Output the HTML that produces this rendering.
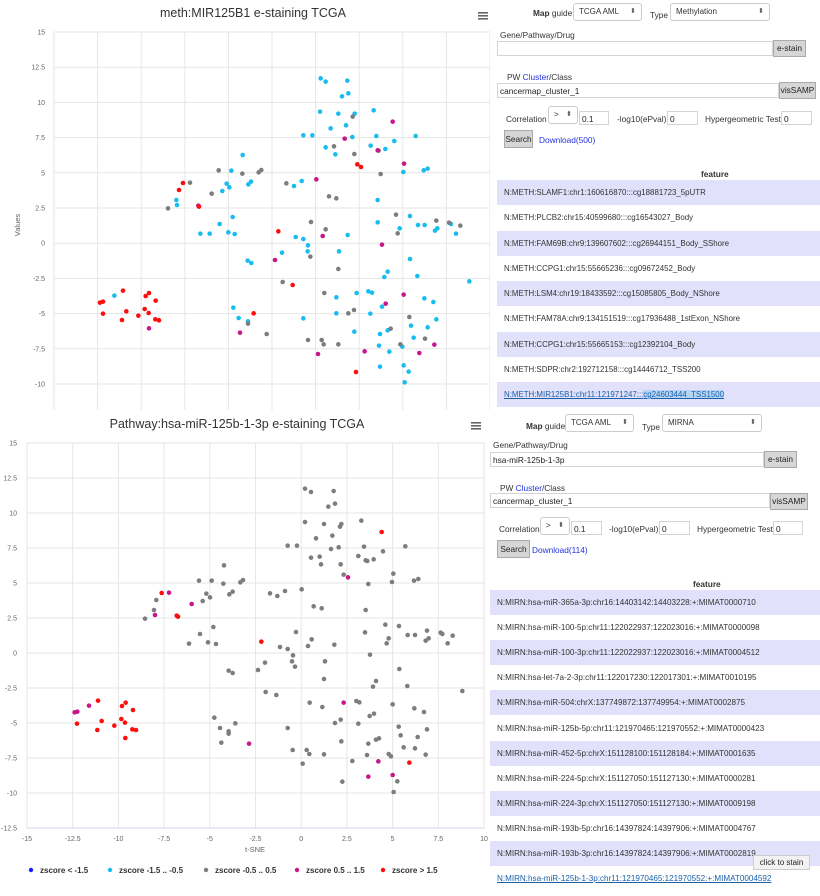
<!DOCTYPE html>
<html><head><meta charset="utf-8">
<style>
*{margin:0;padding:0;box-sizing:border-box}
body{width:820px;height:896px;overflow:hidden;background:#fff;font-family:"Liberation Sans","DejaVu Sans",sans-serif;position:relative;color:#222}
.a{position:absolute;white-space:nowrap}
.lbl{font-size:8.3px;color:#333}
.sel{position:absolute;border:1px solid #ccc;border-radius:3px;background:#fff;font-size:8px;color:#333;padding:3px 0 0 5px}
.sel:after{content:"⬍";position:absolute;right:5px;top:3px;font-size:7px;color:#555}
.inp{position:absolute;border:1px solid #d4d4d4;background:#fff;font-size:8.3px;padding:2px 0 0 2px;color:#222}
.btn{position:absolute;background:#d6d6d6;border:1px solid #aaa;font-size:8.3px;text-align:center;color:#222}
.blue{color:#2233dd}
.row{position:absolute;height:25px;font-size:7.9px;color:#333;padding-left:7px;line-height:25px}
.row.l{background:#e1e1fb}
#rows2 .row{font-size:8.1px}
</style></head><body>

<svg class="a" style="left:0;top:0" width="490" height="410" id="s1"></svg>
<svg class="a" style="left:0;top:410" width="490" height="486" id="s2"></svg>

<!-- top right panel -->
<div class="a lbl" style="left:533px;top:8px"><b>Map</b> guide</div>
<div class="sel" style="left:573px;top:3px;width:69px;height:18px">TCGA AML</div>
<div class="a lbl" style="left:650px;top:10px">Type</div>
<div class="sel" style="left:670px;top:3px;width:100px;height:18px">Methylation</div>
<div class="a lbl" style="left:500px;top:30px">Gene/Pathway/Drug</div>
<div class="inp" style="left:497px;top:41px;width:276px;height:15px"></div>
<div class="btn" style="left:773px;top:40px;width:33px;height:17px;line-height:15px">e-stain</div>
<div class="a lbl" style="left:507px;top:72px">PW <span class="blue">Cluster</span>/Class</div>
<div class="inp" style="left:497px;top:83px;width:282px;height:15px">cancermap_cluster_1</div>
<div class="btn" style="left:779px;top:82px;width:37px;height:17px;line-height:15px">visSAMP</div>
<div class="a lbl" style="left:506px;top:114px">Correlation</div>
<div class="sel" style="left:548px;top:106px;width:30px;height:18px">&gt;</div>
<div class="inp" style="left:579px;top:111px;width:30px;height:14px">0.1</div>
<div class="a lbl" style="left:617px;top:114px">-log10(ePval)</div>
<div class="inp" style="left:667px;top:111px;width:31px;height:14px">0</div>
<div class="a lbl" style="left:705px;top:114px">Hypergeometric Test</div>
<div class="inp" style="left:781px;top:111px;width:31px;height:14px">0</div>
<div class="btn" style="left:504px;top:130px;width:29px;height:18px;line-height:16px">Search</div>
<div class="a lbl blue" style="left:539px;top:135px">Download(500)</div>
<div class="a lbl" style="left:701px;top:169px"><b>feature</b></div>
<div class="row l" style="left:497px;top:180px;width:323px">N:METH:SLAMF1:chr1:160616870:::cg18881723_5pUTR</div>
<div class="row" style="left:497px;top:205px;width:323px">N:METH:PLCB2:chr15:40599680:::cg16543027_Body</div>
<div class="row l" style="left:497px;top:231px;width:323px">N:METH:FAM69B:chr9:139607602:::cg26944151_Body_SShore</div>
<div class="row" style="left:497px;top:256px;width:323px">N:METH:CCPG1:chr15:55665236:::cg09672452_Body</div>
<div class="row l" style="left:497px;top:281px;width:323px">N:METH:LSM4:chr19:18433592:::cg15085805_Body_NShore</div>
<div class="row" style="left:497px;top:306px;width:323px">N:METH:FAM78A:chr9:134151519:::cg17936488_1stExon_NShore</div>
<div class="row l" style="left:497px;top:332px;width:323px">N:METH:CCPG1:chr15:55665153:::cg12392104_Body</div>
<div class="row" style="left:497px;top:357px;width:323px">N:METH:SDPR:chr2:192712158:::cg14446712_TSS200</div>
<div class="row l" style="left:497px;top:382px;width:323px"><span style="color:#1a5fa8;text-decoration:underline">N:METH:MIR125B1:chr11:121971247:::<span style="background:#b5d5f5">cg24603444_TSS1500</span></span></div>

<!-- bottom right panel -->
<div class="a lbl" style="left:526px;top:421px"><b>Map</b> guide</div>
<div class="sel" style="left:565px;top:414px;width:69px;height:18px">TCGA AML</div>
<div class="a lbl" style="left:642px;top:422px">Type</div>
<div class="sel" style="left:662px;top:414px;width:100px;height:18px">MIRNA</div>
<div class="a lbl" style="left:493px;top:440px">Gene/Pathway/Drug</div>
<div class="inp" style="left:490px;top:452px;width:274px;height:15px">hsa-miR-125b-1-3p</div>
<div class="btn" style="left:764px;top:451px;width:33px;height:17px;line-height:15px">e-stain</div>
<div class="a lbl" style="left:500px;top:483px">PW <span class="blue">Cluster</span>/Class</div>
<div class="inp" style="left:490px;top:493px;width:280px;height:15px">cancermap_cluster_1</div>
<div class="btn" style="left:770px;top:493px;width:38px;height:17px;line-height:15px">visSAMP</div>
<div class="a lbl" style="left:499px;top:524px">Correlation</div>
<div class="sel" style="left:540px;top:517px;width:30px;height:18px">&gt;</div>
<div class="inp" style="left:571px;top:521px;width:31px;height:14px">0.1</div>
<div class="a lbl" style="left:609px;top:524px">-log10(ePval)</div>
<div class="inp" style="left:659px;top:521px;width:31px;height:14px">0</div>
<div class="a lbl" style="left:697px;top:524px">Hypergeometric Test</div>
<div class="inp" style="left:773px;top:521px;width:30px;height:14px">0</div>
<div class="btn" style="left:497px;top:540px;width:33px;height:18px;line-height:16px">Search</div>
<div class="a lbl blue" style="left:532px;top:545px">Download(114)</div>
<div class="a lbl" style="left:693px;top:579px"><b>feature</b></div>
<div id="rows2"></div>
<div class="a" style="left:753px;top:855px;width:57px;height:15px;background:#f2f2f2;border:1px solid #ccc;font-size:8px;line-height:13px;text-align:center;color:#222">click to stain</div>

<script>
var NS="http://www.w3.org/2000/svg";
function el(s,t,a,txt){var e=document.createElementNS(NS,t);for(var k in a)e.setAttribute(k,a[k]);if(txt!==undefined)e.textContent=txt;s.appendChild(e);return e;}
var C={c:"#18bdf0",g:"#7d7d7d",m:"#c8168c",r:"#ff0d0d",b:"#1a1aff"};
var s1=document.getElementById("s1");
el(s1,"text",{x:253,y:17,"text-anchor":"middle","font-size":"12.5","fill":"#333","font-family":"Liberation Sans, sans-serif"},"meth:MIR125B1 e-staining TCGA");
for(var k=0;k<=11;k++){var y=32+k*35.2;el(s1,"line",{x1:54,x2:490,y1:y,y2:y,stroke:"#e6e6e6","stroke-width":1});
 if(k<=10)el(s1,"text",{x:45,y:y+2.5,"text-anchor":"end","font-size":"7","fill":"#666","font-family":"Liberation Sans, sans-serif"},String(15-2.5*k));}
for(var k=0;k<=10;k++){var x=54+k*43.6;el(s1,"line",{x1:x,x2:x,y1:32,y2:410,stroke:"#e6e6e6","stroke-width":1});}
el(s1,"text",{x:20,y:225,"text-anchor":"middle","font-size":"7.5","fill":"#666",transform:"rotate(-90 20 225)","font-family":"Liberation Sans, sans-serif"},"Values");
function ham(s,x,y){for(var i=0;i<3;i++)el(s,"rect",{x:x,y:y+i*3,width:10,height:1.6,fill:"#666"});}
ham(s1,478,12);
var P1={c:[[962,235],[977,245],[1042,242],[1045,280],[1026,289],[960,335],[1015,341],[1064,341],[1121,331],[992,385],[1038,376],[910,406],[937,406],[1057,411],[1129,408],[1247,408],[1183,423],[977,442],[1006,463],[1112,437],[1156,447],[1210,516],[1271,511],[1283,506],[882,558],[905,543],[1133,600],[1230,648],[1254,675],[1274,675],[1133,667],[1199,685],[1305,692],[1312,685],[1353,672],[1368,701],[1230,777],[1252,828],[1153,831],[1163,815],[1408,844],[1043,705],[887,711],[910,717],[924,736],[923,754],[1017,754],[846,758],[1009,892],[1009,940],[1070,879],[1105,874],[1116,878],[1111,941],[1063,995],[910,955],[1146,920],[1140,1002],[1163,991],[1137,1037],[1168,1055],[1140,1100],[1207,1040],[1211,1096],[1226,1115],[1214,1147],[1233,977],[1241,1013],[1273,895],[1283,982],[1300,906],[1309,958],[343,887],[529,600],[531,615],[601,701],[629,701],[659,672],[667,573],[680,551],[688,562],[694,512],[728,465],[745,553],[753,545],[685,697],[698,651],[704,702],[743,782],[754,789],[700,923],[716,954],[744,964]],
g:[[1058,350],[1002,439],[1063,462],[1136,452],[1142,522],[859,550],[987,589],[1009,595],[1188,644],[1309,662],[1193,700],[1347,668],[1381,677],[977,688],[933,666],[931,770],[1015,807],[848,846],[973,879],[1062,930],[1045,940],[1228,951],[1172,986],[1201,1033],[1275,1016],[965,1020],[971,1033],[924,1020],[1015,1033],[504,625],[570,548],[635,581],[656,511],[727,521],[776,517],[784,510],[744,971],[800,1002]],
m:[[1034,416],[1133,451],[1178,365],[1212,491],[949,538],[968,708],[1146,734],[825,780],[1157,911],[1211,884],[954,1062],[1094,1054],[1258,1059],[1303,1034],[595,617],[720,998],[447,985]],
r:[[1072,493],[1083,501],[835,694],[878,855],[1068,1116],[761,940],[549,549],[537,570],[597,620],[300,908],[309,905],[309,941],[369,872],[366,960],[379,934],[415,947],[434,927],[437,888],[447,879],[446,939],[467,902],[466,958],[477,961]]};
for(var k in P1)P1[k].forEach(function(p){el(s1,"circle",{cx:p[0]/3,cy:p[1]/3,r:2.3,fill:C[k]});});
var s2=document.getElementById("s2");
el(s2,"text",{x:237,y:18,"text-anchor":"middle","font-size":"12.5","fill":"#333","font-family":"Liberation Sans, sans-serif"},"Pathway:hsa-miR-125b-1-3p e-staining TCGA");
ham(s2,471,12);
for(var k=0;k<=11;k++){var y=33+k*35;el(s2,"line",{x1:27,x2:484,y1:y,y2:y,stroke:k==11?"#ccd6eb":"#e6e6e6","stroke-width":1});
 el(s2,"text",{x:17,y:y+2.5,"text-anchor":"end","font-size":"7","fill":"#666","font-family":"Liberation Sans, sans-serif"},String(15-2.5*k));}
for(var k=0;k<=10;k++){var x=27+k*45.7;el(s2,"line",{x1:x,x2:x,y1:33,y2:418,stroke:"#e6e6e6","stroke-width":1});
 el(s2,"text",{x:x,y:431,"text-anchor":"middle","font-size":"7","fill":"#666","font-family":"Liberation Sans, sans-serif"},String(-15+2.5*k));}
el(s2,"text",{x:255,y:442,"text-anchor":"middle","font-size":"7.5","fill":"#666","font-family":"Liberation Sans, sans-serif"},"t-SNE");
var L=[[31,"b","zscore < -1.5"],[110,"c","zscore -1.5 .. -0.5"],[206,"g","zscore -0.5 .. 0.5"],[297,"m","zscore 0.5 .. 1.5"],[383,"r","zscore > 1.5"]];
L.forEach(function(l){el(s2,"circle",{cx:l[0],cy:460,r:2.2,fill:C[l[1]]});el(s2,"text",{x:l[0]+9,y:463,"font-size":"8","font-weight":"bold","fill":"#333","font-family":"Liberation Sans, sans-serif"},l[2]);});
var P2={g:[[915,236],[933,246],[1001,243],[1005,281],[985,290],[915,336],[972,342],[1020,350],[1024,342],[1084,332],[948,385],[997,377],[863,407],[891,407],[993,417],[1016,412],[1092,410],[1216,409],[1149,424],[933,443],[959,440],[963,463],[1022,463],[1075,438],[1097,451],[1102,453],[1121,448],[1031,494],[1105,522],[1176,516],[1180,491],[1242,512],[1255,507],[905,538],[810,550],[832,558],[855,543],[941,589],[965,595],[1097,600],[1156,644],[1197,648],[1223,675],[1245,675],[1281,662],[1095,667],[1166,685],[1160,700],[1277,692],[1286,685],[1322,668],[1327,672],[1358,677],[1343,700],[1110,734],[1198,777],[1222,828],[1119,830],[1128,813],[1387,843],[935,688],[924,708],[1003,704],[888,666],[840,711],[863,717],[879,736],[876,754],[885,770],[975,754],[972,807],[795,758],[774,780],[797,846],[829,855],[929,878],[967,891],[1005,939],[1022,929],[1069,873],[1078,877],[1075,941],[1109,918],[1122,911],[1105,1001],[1128,989],[1137,985],[1101,1035],[1057,1053],[1024,994],[863,954],[878,1020],[920,1020],[928,1032],[972,1033],[908,1061],[1027,1115],[1166,1032],[1173,1039],[1178,883],[1196,950],[1202,976],[1211,1012],[1192,1114],[1181,1146],[1243,895],[1253,981],[1272,906],[1281,958],[1245,1015],[1277,1034],[435,626],[462,600],[469,570],[567,701],[597,512],[600,672],[608,573],[619,551],[630,562],[635,512],[640,651],[624,697],[648,702],[670,521],[672,466],[688,553],[698,545],[721,517],[729,510],[686,782],[698,789],[643,923],[660,954],[664,998],[686,964],[686,971],[706,940]],
m:[[1044,502],[1031,878],[1135,1054],[1105,1100],[1178,1095],[465,615],[507,548],[575,582],[747,1001],[224,907],[232,905],[267,887]],
r:[[1145,366],[784,695],[1228,1058],[485,549],[530,617],[534,620],[231,941],[294,872],[292,960],[305,933],[343,947],[364,927],[366,888],[377,878],[375,938],[399,900],[397,958],[408,960],[376,984]]};
for(var k in P2)P2[k].forEach(function(p){el(s2,"circle",{cx:p[0]/3,cy:p[1]/3,r:2.3,fill:C[k]});});
var R=["N:MIRN:hsa-miR-365a-3p:chr16:14403142:14403228:+:MIMAT0000710","N:MIRN:hsa-miR-100-5p:chr11:122022937:122023016:+:MIMAT0000098","N:MIRN:hsa-miR-100-3p:chr11:122022937:122023016:+:MIMAT0004512","N:MIRN:hsa-let-7a-2-3p:chr11:122017230:122017301:+:MIMAT0010195","N:MIRN:hsa-miR-504:chrX:137749872:137749954:+:MIMAT0002875","N:MIRN:hsa-miR-125b-5p:chr11:121970465:121970552:+:MIMAT0000423","N:MIRN:hsa-miR-452-5p:chrX:151128100:151128184:+:MIMAT0001635","N:MIRN:hsa-miR-224-5p:chrX:151127050:151127130:+:MIMAT0000281","N:MIRN:hsa-miR-224-3p:chrX:151127050:151127130:+:MIMAT0009198","N:MIRN:hsa-miR-193b-5p:chr16:14397824:14397906:+:MIMAT0004767","N:MIRN:hsa-miR-193b-3p:chr16:14397824:14397906:+:MIMAT0002819","N:MIRN:hsa-miR-125b-1-3p:chr11:121970465:121970552:+:MIMAT0004592"];
var h="";R.forEach(function(t,i){var top=590+25.1*i;var txt=i==11?'<span style="color:#1a5fa8;text-decoration:underline">'+t+'</span>':t;h+='<div class="row'+(i%2==0?' l':'')+'" style="left:490px;top:'+top+'px;width:330px">'+txt+'</div>';});
document.getElementById("rows2").innerHTML=h;
</script>
</body></html>
